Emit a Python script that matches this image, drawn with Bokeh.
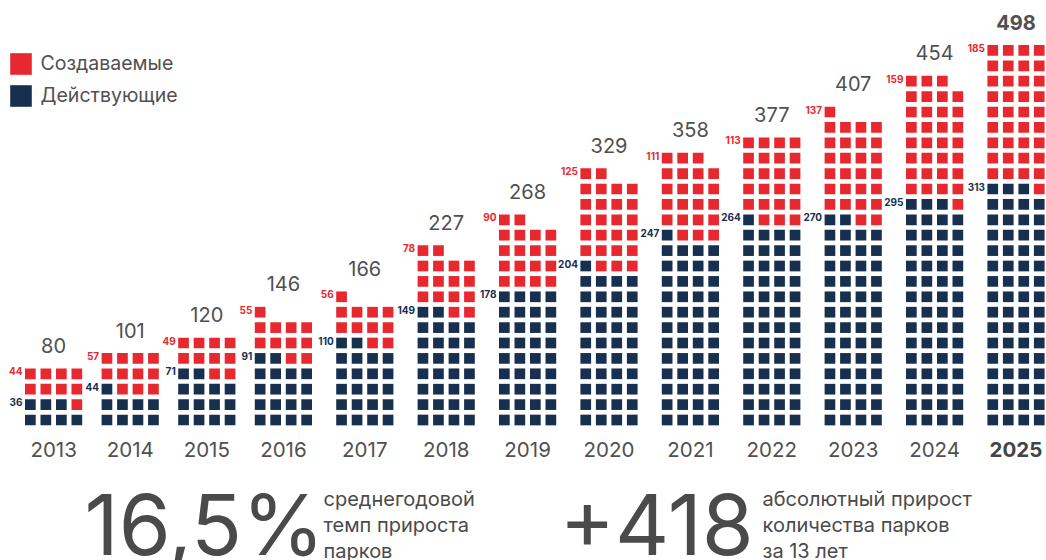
from bokeh.plotting import figure
from bokeh.models import Range1d, Label, Legend, LegendItem, ColumnDataSource
from bokeh.embed import file_html
from bokeh.resources import INLINE
from bokeh.core.properties import value

# ---------------- data ----------------
years = [2013, 2014, 2015, 2016, 2017, 2018, 2019, 2020, 2021, 2022, 2023, 2024, 2025]
active = [36, 44, 71, 91, 110, 149, 178, 204, 247, 264, 270, 295, 313]      # Действующие
created = [44, 57, 49, 55, 56, 78, 90, 125, 111, 113, 137, 159, 185]       # Создаваемые
totals = [80, 101, 120, 146, 166, 227, 268, 329, 358, 377, 407, 454, 498]
year_labels = [str(y) for y in years]
parks_per_square = 5
stat1_value = "16,5%"
stat1_text = ["среднегодовой", "темп прироста", "парков"]
stat2_value = "+418"
stat2_text = ["абсолютный прирост", "количества парков", "за 13 лет"]

# ---------------- style ----------------
RED = "#e8282f"
NAVY = "#17304f"
GRAY = "#505050"
FONT = "Inter"
W, H = 1046, 560
SQ = 10.7
PX, PY = 15.5, 15.4
Y0 = 140.5

# column centres: group width grows with the width of the side label
cx = [53.1]
for i in range(1, len(years)):
    cx.append(cx[-1] + 67 + 4.8 * len(str(active[i])))

dark = dict(x=[], y=[])
red = dict(x=[], y=[])
act_lab = dict(x=[], y=[], t=[])
cre_lab = dict(x=[], y=[], t=[])
tot_lab = dict(x=[], y=[], t=[], f=[])
yr_lab = dict(x=[], y=[], t=[], f=[], c=[])

for i, yr in enumerate(years):
    nd = round(active[i] / parks_per_square)
    nr = round(created[i] / parks_per_square)
    for k in range(nd + nr):
        row, col = divmod(k, 4)
        x = cx[i] + (col - 1.5) * PX
        y = Y0 + row * PY
        tgt = dark if k < nd else red
        tgt["x"].append(x)
        tgt["y"].append(y)
    left = cx[i] - 1.5 * PX - SQ / 2 - 2.5
    top_dark_row = (nd - 1) // 4
    top_row = (nd + nr - 1) // 4
    act_lab["x"].append(left)
    act_lab["y"].append(Y0 + top_dark_row * PY + 2.5)
    act_lab["t"].append(str(active[i]))
    cre_lab["x"].append(left)
    cre_lab["y"].append(Y0 + top_row * PY + 2.5)
    cre_lab["t"].append(str(created[i]))
    tot_lab["x"].append(cx[i])
    tot_lab["y"].append(Y0 + top_row * PY + SQ / 2 + 23)
    tot_lab["t"].append(str(totals[i]))
    last = i == len(years) - 1
    tot_lab["f"].append("bold" if last else "normal")
    yr_lab["x"].append(cx[i])
    yr_lab["y"].append(111)
    yr_lab["t"].append(year_labels[i])
    yr_lab["f"].append("bold" if last else "normal")
    yr_lab["c"].append("#444444" if last else GRAY)

p = figure(width=W, height=H, output_backend="svg", toolbar_location=None,
           x_range=Range1d(0, W), y_range=Range1d(0, H),
           x_axis_location=None, y_axis_location=None, min_border=0)
p.grid.visible = False
p.outline_line_color = None
p.background_fill_color = "white"
p.border_fill_color = "white"

r_dark = p.rect("x", "y", width=SQ, height=SQ, source=ColumnDataSource(dark),
                fill_color=NAVY, line_color=None)
r_red = p.rect("x", "y", width=SQ, height=SQ, source=ColumnDataSource(red),
               fill_color=RED, line_color=None)

p.text("x", "y", text="t", source=ColumnDataSource(act_lab), text_align="right",
       text_baseline="middle", text_font=value(FONT), text_font_size="10px",
       text_font_style="bold", text_color=NAVY)
p.text("x", "y", text="t", source=ColumnDataSource(cre_lab), text_align="right",
       text_baseline="middle", text_font=value(FONT), text_font_size="10px",
       text_font_style="bold", text_color=RED)
p.text("x", "y", text="t", source=ColumnDataSource(tot_lab), text_align="center",
       text_baseline="middle", text_font=value(FONT), text_font_size="20px",
       text_font_style="f", text_color=GRAY)
p.text("x", "y", text="t", source=ColumnDataSource(yr_lab), text_align="center",
       text_baseline="middle", text_font=value(FONT), text_font_size="20.5px",
       text_font_style="f", text_color="c")

legend = Legend(items=[LegendItem(label="Создаваемые", renderers=[r_red]),
                       LegendItem(label="Действующие", renderers=[r_dark])],
                location=(6.5, 451.5), glyph_width=27, glyph_height=27, spacing=5,
                padding=0, margin=0, label_standoff=7, border_line_color=None,
                background_fill_alpha=0, label_text_font=FONT,
                label_text_font_size="19.5px", label_text_color=GRAY)
p.add_layout(legend)

# headline figures
p.add_layout(Label(x=84, y=36.5, text=stat1_value, text_font=FONT, text_font_size="84px",
                   text_color="#4a4a4a", text_baseline="middle"))
p.add_layout(Label(x=559, y=36.5, text=stat2_value, text_font=FONT, text_font_size="84px",
                   text_color="#4a4a4a", text_baseline="middle"))
for j, line in enumerate(stat1_text):
    p.add_layout(Label(x=323, y=62 - 26 * j, text=line, text_font=FONT,
                       text_font_size="20px", text_color="#4a4a4a", text_baseline="middle"))
for j, line in enumerate(stat2_text):
    p.add_layout(Label(x=762, y=62 - 26 * j, text=line, text_font=FONT,
                       text_font_size="20px", text_color="#4a4a4a", text_baseline="middle"))

open("out.html", "w").write(file_html(p, INLINE))
